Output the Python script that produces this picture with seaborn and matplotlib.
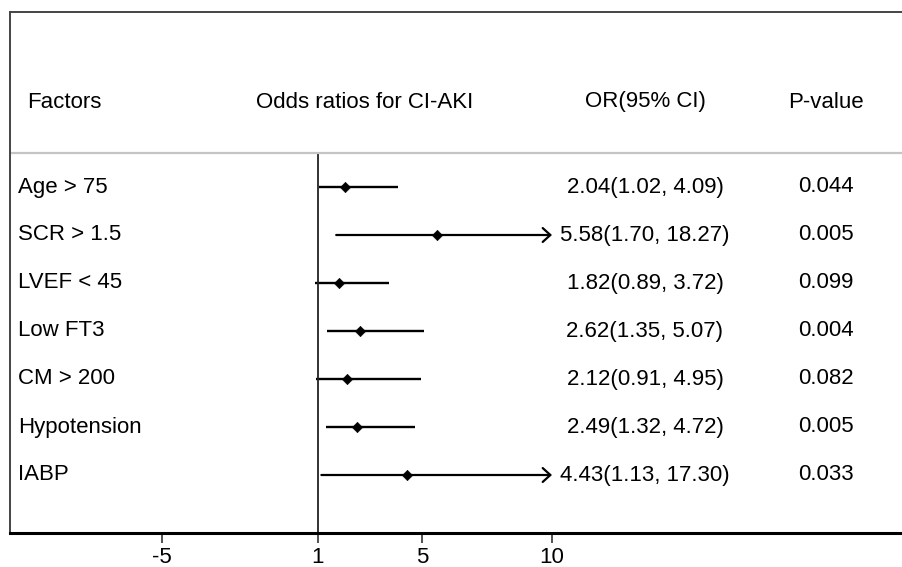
import numpy as np
import pandas as pd
import matplotlib
matplotlib.use('Agg')
import matplotlib.pyplot as plt
import seaborn as sns

# forest plot data
factors = ['Age > 75', 'SCR > 1.5', 'LVEF < 45', 'Low FT3', 'CM > 200', 'Hypotension', 'IABP']
odds = [2.04, 5.58, 1.82, 2.62, 2.12, 2.49, 4.43]
ci_low = [1.02, 1.70, 0.89, 1.35, 0.91, 1.32, 1.13]
ci_high = [4.09, 18.27, 3.72, 5.07, 4.95, 4.72, 17.30]
p_values = ['0.044', '0.005', '0.099', '0.004', '0.082', '0.005', '0.033']
headers = ['Factors', 'Odds ratios for CI-AKI', 'OR(95% CI)', 'P-value']
xticks = [-5, 1, 5, 10]
clip_at = 10

df = pd.DataFrame({'factor': factors, 'odds': odds, 'low': ci_low, 'high': ci_high, 'p': p_values})
df['row'] = np.arange(len(df))
df['label'] = [f'{o:.2f}({l:.2f}, {h:.2f})' for o, l, h in zip(df.odds, df.low, df.high)]

sns.set_style('white')
plt.rcParams['font.family'] = ['Liberation Sans', 'DejaVu Sans']
plt.rcParams['text.color'] = 'black'
plt.rcParams['xtick.color'] = 'black'
fs = 16

fig = plt.figure(figsize=(9.03, 5.67), dpi=100)
W, H = 903, 567
ax = fig.add_axes([10 / W, 1 - 533 / H, 1 - 10 / W, (533 - 12) / H])

row_px = 48
ax.set_xlim(1 - 308 / 26, 1 + 585 / 26)
ax.set_ylim((533 - 187) / row_px, (12 - 187) / row_px)

# confidence intervals, long ones cut at 10 with an arrow
for _, r in df.iterrows():
    if r.high > clip_at:
        ax.annotate('', xy=(clip_at, r.row), xytext=(r.low, r.row),
                    arrowprops=dict(arrowstyle='->,head_length=0.55,head_width=0.5',
                                    lw=1.6, color='black', shrinkA=0, shrinkB=0))
    else:
        ax.hlines(r.row, r.low, r.high, color='black', lw=1.7)

sns.scatterplot(data=df, x='odds', y='row', marker='D', s=28, color='black',
                edgecolor='black', ax=ax, zorder=3, legend=False)

# reference line at OR = 1
sep_y = (153 - 187) / row_px
y0, y1 = ax.get_ylim()
ax.axvline(1, ymin=0, ymax=(y0 - sep_y) / (y0 - y1), color='#222222', lw=1.3)
ax.axhline(sep_y, color='#c4c4c4', lw=1.6)

# table text
tr = ax.get_yaxis_transform()
col_x = [(18 - 10) / 893, (558 - 10) / 893, (645 - 10) / 893, (826 - 10) / 893]
head_y = (102 - 187) / row_px
ax.text((27 - 10) / 893, head_y, headers[0], transform=tr, fontsize=fs, ha='left', va='center')
ax.text((365 - 10) / 893, head_y, headers[1], transform=tr, fontsize=fs, ha='center', va='center')
ax.text(col_x[2], head_y, headers[2], transform=tr, fontsize=fs, ha='center', va='center')
ax.text(col_x[3], head_y, headers[3], transform=tr, fontsize=fs, ha='center', va='center')
for _, r in df.iterrows():
    ax.text(col_x[0], r.row, r.factor, transform=tr, fontsize=fs, ha='left', va='center')
    ax.text(col_x[2], r.row, r.label, transform=tr, fontsize=fs, ha='center', va='center')
    ax.text(col_x[3], r.row, r.p, transform=tr, fontsize=fs, ha='center', va='center')

ax.set_xticks(xticks)
ax.set_xticklabels([str(t) for t in xticks])
ax.set_yticks([])
ax.set_xlabel('')
ax.set_ylabel('')
ax.tick_params(axis='x', bottom=True, direction='out', length=7, width=1.2,
               color='#333333', labelsize=fs, pad=3)

for side in ['top', 'left']:
    ax.spines[side].set_color('#444444')
    ax.spines[side].set_linewidth(1.4)
ax.spines['right'].set_visible(False)
ax.spines['bottom'].set_color('black')
ax.spines['bottom'].set_linewidth(2.2)

fig.savefig('out.png', dpi=100)
